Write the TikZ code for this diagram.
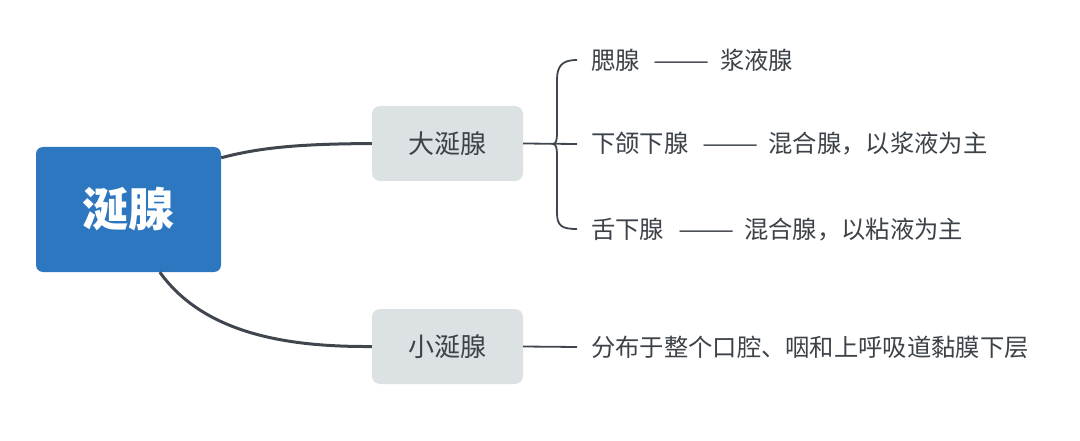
\documentclass[tikz,border=0pt]{standalone}
\usepackage{fontspec}
\setmainfont{Noto Sans CJK SC}
\newfontfamily\cjk{Noto Sans CJK SC}
\usetikzlibrary{calc}
\definecolor{mainblue}{HTML}{2D77C1}
\definecolor{boxgray}{HTML}{DCE2E3}
\definecolor{linegray}{HTML}{40464E}
\definecolor{txtgray}{HTML}{3C4248}
\newcommand{\longdash}{\hspace{14pt}\scalebox{1.38}[1]{——}\hspace{10pt}}
\begin{document}
\begin{tikzpicture}[x=1pt,y=-1pt,
  rootbox/.style={fill=mainblue,rounded corners=7pt,minimum width=185pt,minimum height=125pt,inner sep=0,
    text=white,font=\cjk\bfseries\fontsize{46}{50}\selectfont},
  subbox/.style={fill=boxgray,rounded corners=8pt,minimum width=151pt,minimum height=75pt,inner sep=0,
    text=txtgray,font=\cjk\fontsize{26}{30}\selectfont},
  item/.style={anchor=west,inner sep=0,text=txtgray,font=\cjk\fontsize{24.3}{28}\selectfont},
  thick/.style={draw=linegray,line width=3pt},
  thin/.style={draw=linegray,line width=1.8pt}]
\useasboundingbox (0,0) rectangle (1080,441);
\node[rootbox] (root) at (128.5,209.5) {涎腺};
\node[subbox] (big) at (447.5,143.5) {大涎腺};
\node[subbox] (small) at (447.5,346.5) {小涎腺};
% main connectors
\draw[thick] ($(root.north east)+(0,11)$) .. controls (265,146) and (310,144) .. (big.west);
\draw[thick] ($(root.south west)+(124,0)$) .. controls (205,335) and (290,347) .. (small.west);
% brace
\coordinate (btop) at (577,60);
\coordinate (bmid) at (577,144);
\coordinate (bbot) at (577,229);
\draw[thin] (big.east) -- (bmid);
\draw[thin] (btop) .. controls (562,60) and (557,66) .. (557,80) -- (557,133)
  .. controls (557,140) and (556,144) .. (553,144)
  .. controls (556,144) and (557,148) .. (557,155) -- (557,213)
  .. controls (557,226) and (562,229) .. (bbot);
\node[item] (t1) at (591,60) {腮腺\longdash 浆液腺};
\node[item] (t2) at (591,144) {下颌下腺\longdash 混合腺，以浆液为主};
\node[item] (t3) at (591,230) {舌下腺\longdash 混合腺，以粘液为主};
\coordinate (send) at (577,347);
\draw[thin] (small.east) -- (send);
\node[item] (t4) at (591,347) {分布于整个口腔、咽和上呼吸道黏膜下层};
\end{tikzpicture}
\end{document}
